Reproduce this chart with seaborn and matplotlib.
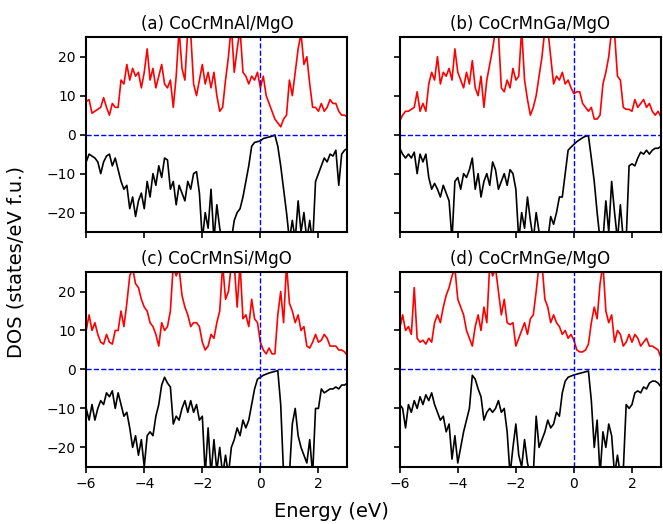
import numpy as np
import pandas as pd
import matplotlib
matplotlib.use("Agg")
import matplotlib.pyplot as plt
import seaborn as sns

energy = [round(-6.0 + 0.1 * i, 1) for i in range(91)]

titles = ["(a) CoCrMnAl/MgO", "(b) CoCrMnGa/MgO", "(c) CoCrMnSi/MgO", "(d) CoCrMnGe/MgO"]

up_a = [8.5, 9, 5.5, 6, 6.5, 7, 9.5, 7, 5, 8, 7, 7, 14, 13, 18, 14, 17, 15, 16, 12, 16,
        22, 14, 17, 12, 15, 18, 13, 12, 14, 7, 15, 27, 17, 14, 27, 26, 13, 10, 14, 18,
        13, 16, 12, 16, 10, 6, 7, 14, 20, 28, 16, 22, 27, 16, 15, 13, 15, 14, 16, 12,
        15, 10, 8, 6, 4, 3, 2, 4, 5, 14, 10, 16, 22, 26, 18, 20, 13, 7, 7, 6,
        8, 6, 7, 9, 8, 8, 6, 5, 5, 4.5]
dn_a = [-7, -5, -5.5, -6, -7, -10, -7, -5.5, -5, -8, -6, -9, -12, -14, -13, -19, -16, -21, -17, -15, -19,
        -12, -16, -10, -13, -8, -11, -6, -6.5, -14, -12, -18, -13, -15, -17, -12, -14, -10, -9.5, -15, -27,
        -20, -24, -14, -27, -18, -24, -28, -28, -27, -27, -22, -20, -19, -16, -12, -8, -3, -2, -1.8, -1.6,
        -1.0, -0.8, -0.6, -0.4, -0.1, -3, -8, -14, -20, -27, -22, -27, -17, -25, -20, -27, -22, -28, -12, -10,
        -8, -6, -7, -5, -5.5, -4, -13, -5, -4, -3.5]

up_b = [3.5, 5, 6, 6, 6.5, 7, 11, 6, 8, 6, 13, 16, 14, 20, 13, 16, 15, 17, 14, 22, 16,
        14, 12, 16, 13, 19, 12, 10, 15, 7, 14, 18, 22, 27, 26, 12, 11, 14, 12, 17, 14,
        15, 27, 14, 9, 5, 7, 10, 15, 20, 27, 27, 20, 13, 15, 14, 16, 13, 14, 12, 10.5,
        11, 11, 8, 7, 6, 7, 4, 4, 5, 13, 16, 20, 27, 26, 15, 14, 7, 6.5, 6.5, 6,
        9, 7, 8, 9, 7, 8, 6, 5, 6, 4.5]
dn_b = [-3.5, -5, -6, -5, -6, -4.5, -10, -5, -7, -5, -11, -14, -12.5, -14, -16, -13, -15, -17, -27, -12, -11,
        -14, -10, -11, -9, -6, -14, -10, -16, -12, -10, -13, -7, -9, -14, -12, -10, -13, -9, -10, -14,
        -27, -20, -24, -16, -22, -27, -20, -25, -28, -28, -27, -21, -23, -20, -16, -16, -10, -4, -3.2, -2.5,
        -1.8, -1.3, -0.8, -0.4, -0.3, -6, -12, -20, -27, -27, -17, -25, -12, -20, -27, -18, -27, -27, -8, -7.5,
        -8, -6, -4.5, -5, -4, -5, -4, -3.5, -3.5, -3]

up_c = [10, 14, 10, 12, 9, 7, 6.5, 9, 7, 6.5, 10, 10, 15, 11, 17, 24, 26, 22, 21, 18, 16,
        15, 12, 11, 9, 6, 12, 10, 11, 15, 27, 24, 26, 19, 16, 14, 11, 12, 12, 11, 7,
        5, 6, 9, 8, 12, 15, 27, 18, 20, 27, 27, 16, 27, 13, 14, 11, 18, 13, 12, 7,
        5, 4, 5.5, 4, 4, 14, 20, 12, 27, 17, 15, 12, 14, 10, 11, 6, 5.5, 7, 9, 7,
        7.5, 9, 8, 6, 6, 6, 5, 5, 4.5, 3.5]
dn_c = [-10, -13, -9, -13, -10, -8, -9, -6, -7, -5.5, -10, -6, -9, -12, -11, -15, -20, -17, -22, -18, -25,
        -17, -16, -17, -12, -9, -4, -2, -3.5, -4.5, -14, -12, -13, -10, -8, -11, -8, -11, -9, -13, -12,
        -27, -15, -27, -18, -26, -20, -27, -22, -27, -20, -18, -15, -17, -13, -15, -13, -9, -5, -2.5, -2,
        -1.5, -1.2, -0.9, -0.7, -0.5, -0.3, -9, -27, -27, -27, -14, -10, -17, -20, -22, -24, -18, -27, -10, -10,
        -5, -6, -5.5, -5, -5, -4.5, -5, -4, -4, -3.5]

up_d = [10.5, 14, 10, 11, 9, 21, 8, 7, 7.5, 6.5, 8, 7, 12, 14, 12, 16, 19, 21, 24, 26, 18,
        16, 14, 10, 8, 6, 11, 14, 10, 16, 12, 27, 24, 26, 20, 14, 18, 12, 11.5, 12, 6,
        8, 10, 12, 9, 13, 14, 20, 27, 27, 18, 16, 12, 14, 12, 11, 9, 10, 8, 9, 7.5,
        5, 4.5, 4.5, 5, 6.5, 12, 16, 13, 22, 27, 15, 12, 14, 7, 10, 9, 6, 7, 9, 7,
        9, 8, 6, 7, 8, 6, 6, 5.5, 5, 3]
dn_d = [-9, -10, -15, -9, -11, -8, -10, -7, -9, -6.5, -8, -6, -9, -11, -13, -12, -16, -14, -23, -17, -24,
        -20, -16, -13, -10, -1.5, -2.5, -5, -7, -13, -11, -10, -11, -10, -8, -11, -10, -16, -27, -20, -14,
        -22, -25, -18, -24, -27, -27, -12, -20, -18, -16, -13, -15, -14, -11, -12, -6, -3, -2, -1.7, -1.4,
        -1.2, -1.0, -0.8, -0.6, -0.4, -8, -20, -13, -27, -16, -20, -14, -17, -27, -22, -27, -26, -9, -10, -9,
        -6, -5.5, -6, -4.5, -5, -3.5, -3, -3, -3.5, -4.5]

spin_up = [up_a, up_b, up_c, up_d]
spin_dn = [dn_a, dn_b, dn_c, dn_d]

sns.set_style("ticks")
plt.rcParams['font.family'] = ['DejaVu Sans']
plt.rcParams.update({"text.color": "black", "axes.labelcolor": "black",
                     "xtick.color": "black", "ytick.color": "black"})

fig, axes = plt.subplots(2, 2, figsize=(6.63, 5.24), dpi=100, sharex=True, sharey=True)
fig.subplots_adjust(left=0.13, right=0.997, top=0.929, bottom=0.109, wspace=0.2, hspace=0.205)

for ax, title, up, dn in zip(axes.flat, titles, spin_up, spin_dn):
    df = pd.DataFrame({"E": energy, "up": up, "dn": dn})
    sns.lineplot(data=df, x="E", y="up", ax=ax, color="red", lw=1.2)
    sns.lineplot(data=df, x="E", y="dn", ax=ax, color="black", lw=1.2)
    ax.axhline(0, color="blue", ls="--", lw=1.0)
    ax.axvline(0, color="blue", ls="--", lw=1.0)
    ax.set_xlim(-6, 3)
    ax.set_ylim(-25, 25)
    ax.set_xticks([-6, -4, -2, 0, 2])
    ax.set_yticks([-20, -10, 0, 10, 20])
    ax.set_title(title, fontsize=12, color="black")
    ax.set_xlabel("")
    ax.set_ylabel("")
    ax.tick_params(labelsize=10, width=1.2, length=4, color="black", labelcolor="black")
    for s in ax.spines.values():
        s.set_linewidth(1.5)
        s.set_color("black")

fig.supxlabel("Energy (eV)", fontsize=14, y=0.005, color="black")
fig.supylabel("DOS (states/eV f.u.)", fontsize=14, x=0.01, color="black")

fig.savefig("out.png", dpi=100)
